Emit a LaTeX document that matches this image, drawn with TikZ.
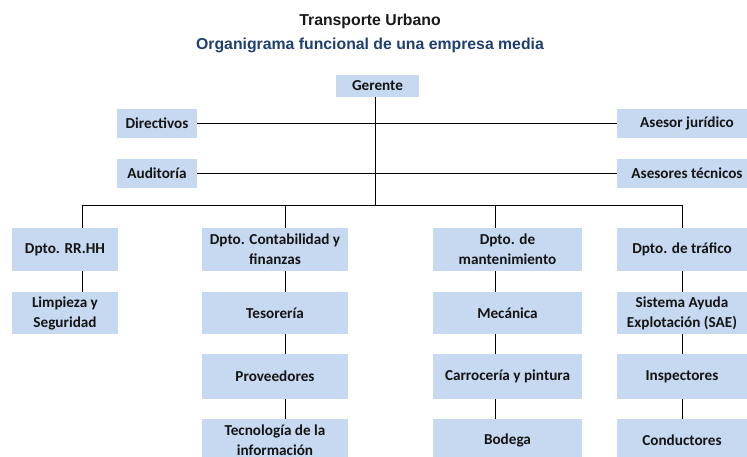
\documentclass[tikz,border=0pt]{standalone}
\usepackage{fontspec}
\setmainfont{Carlito}
\newfontfamily\titlefont{Liberation Sans}
\definecolor{boxblue}{RGB}{198,217,241}
\definecolor{subblue}{RGB}{31,64,110}
\definecolor{txt}{RGB}{20,20,20}
\tikzset{
  orgbox/.style={fill=boxblue, draw=none, inner sep=0pt, align=center,
    text=txt, font=\bfseries\fontsize{15.2}{20}\selectfont},
  link/.style={draw=black, line width=0.8pt},
}
\begin{document}
\begin{tikzpicture}[x=1pt,y=-1pt]
\clip (0,0) rectangle (747,457);
\fill[white] (0,0) rectangle (747,457);
% titles
\node[font=\titlefont\bfseries\fontsize{15.8}{18}\selectfont, text=black!90] (t1) at (370,21) {Transporte Urbano};
\node[font=\titlefont\bfseries\fontsize{15.8}{18}\selectfont, text=subblue] (t2) at (370,45) {Organigrama funcional de una empresa media};
% top
\node[orgbox, minimum width=83pt, minimum height=22pt] (ger) at (377.5,86) {Gerente};
\node[orgbox, minimum width=80pt, minimum height=29pt] (dir) at (157,123.5) {Directivos};
\node[orgbox, minimum width=80pt, minimum height=29pt] (aud) at (157,173.5) {Auditoría};
\node[orgbox, minimum width=140pt, minimum height=29pt] (asj) at (687,123.5) {Asesor jurídico};
\node[orgbox, minimum width=140pt, minimum height=29pt] (ast) at (687,173.5) {Asesores técnicos};
% column 1
\node[orgbox, minimum width=106pt, minimum height=43pt] (rrhh) at (65,249.5) {Dpto. RR.HH};
\node[orgbox, minimum width=106pt, minimum height=42pt] (limp) at (65,313) {Limpieza y\\Seguridad};
% column 2
\node[orgbox, minimum width=146pt, minimum height=43pt] (cont) at (275,249.5) {Dpto. Contabilidad y\\finanzas};
\node[orgbox, minimum width=146pt, minimum height=42pt] (teso) at (275,313) {Tesorería};
\node[orgbox, minimum width=146pt, minimum height=45pt] (prov) at (275,376.5) {Proveedores};
\node[orgbox, minimum width=146pt, minimum height=43pt] (tec) at (275,440.5) {Tecnología de la\\información};
% column 3
\node[orgbox, minimum width=149pt, minimum height=43pt] (mant) at (507.5,249.5) {Dpto. de\\mantenimiento};
\node[orgbox, minimum width=149pt, minimum height=42pt] (meca) at (507.5,313) {Mecánica};
\node[orgbox, minimum width=149pt, minimum height=45pt] (carr) at (507.5,376.5) {Carrocería y pintura};
\node[orgbox, minimum width=149pt, minimum height=43pt] (bod) at (507.5,440.5) {Bodega};
% column 4
\node[orgbox, minimum width=130pt, minimum height=43pt] (traf) at (682,249.5) {Dpto. de tráfico};
\node[orgbox, minimum width=130pt, minimum height=42pt] (sae) at (682,313) {Sistema Ayuda\\Explotación (SAE)};
\node[orgbox, minimum width=130pt, minimum height=45pt] (insp) at (682,376.5) {Inspectores};
\node[orgbox, minimum width=130pt, minimum height=43pt] (cond) at (682,440.5) {Conductores};
% coordinates
\coordinate (trunk) at (375,205);
\coordinate (x1) at (82,205);
\coordinate (x2) at (285,205);
\coordinate (x3) at (495,205);
\coordinate (x4) at (682,205);
% connectors
\path[link] (ger.south -| trunk) -- (trunk);
\path[link] (dir.east) -- (asj.west);
\path[link] (aud.east) -- (ast.west);
\path[link] (x1) -- (x4);
\path[link] (x1) -- (rrhh.north -| x1);
\path[link] (x2) -- (cont.north -| x2);
\path[link] (x3) -- (mant.north -| x3);
\path[link] (x4) -- (traf.north -| x4);
\path[link] (rrhh.south -| x1) -- (limp.north -| x1);
\path[link] (cont.south -| x2) -- (teso.north -| x2);
\path[link] (teso.south -| x2) -- (prov.north -| x2);
\path[link] (prov.south -| x2) -- (tec.north -| x2);
\path[link] (mant.south -| x3) -- (meca.north -| x3);
\path[link] (meca.south -| x3) -- (carr.north -| x3);
\path[link] (carr.south -| x3) -- (bod.north -| x3);
\path[link] (traf.south -| x4) -- (sae.north -| x4);
\path[link] (sae.south -| x4) -- (insp.north -| x4);
\path[link] (insp.south -| x4) -- (cond.north -| x4);
\end{tikzpicture}
\end{document}
